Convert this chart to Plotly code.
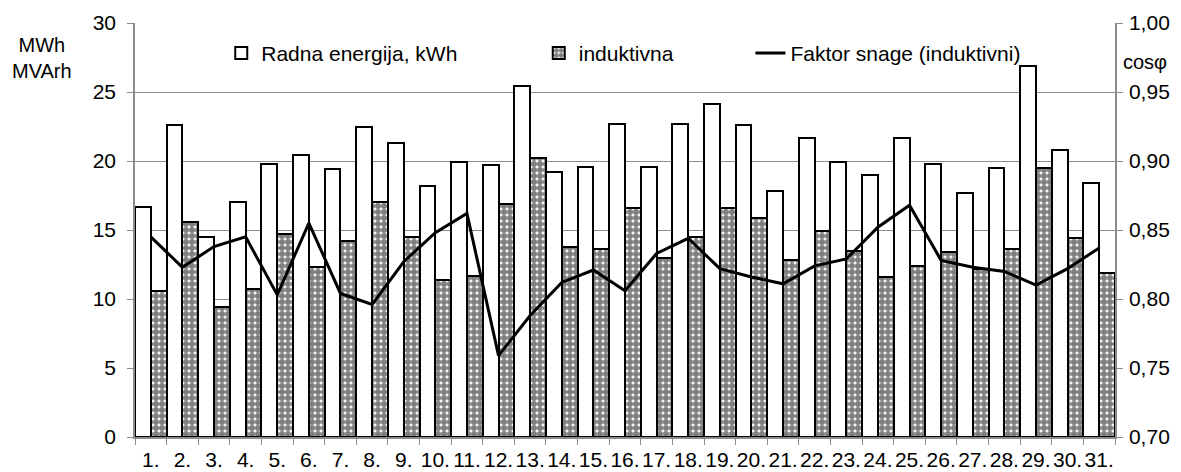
import plotly.graph_objects as go

days = [f"{i}." for i in range(1, 32)]

radna_energija = [16.7, 22.6, 14.5, 17.0, 19.8, 20.4, 19.4, 22.5, 21.3, 18.2,
                  19.9, 19.7, 25.4, 19.2, 19.6, 22.7, 19.6, 22.7, 24.1, 22.6,
                  17.8, 21.7, 19.9, 19.0, 21.7, 19.8, 17.7, 19.5, 26.9, 20.8,
                  18.4]

induktivna = [10.6, 15.6, 9.4, 10.7, 14.7, 12.3, 14.2, 17.0, 14.5, 11.4,
              11.7, 16.9, 20.2, 13.8, 13.6, 16.6, 13.0, 14.5, 16.6, 15.9,
              12.8, 14.9, 13.5, 11.6, 12.4, 13.4, 12.2, 13.6, 19.5, 14.4,
              11.9]

faktor_snage = [0.845, 0.823, 0.838, 0.845, 0.803, 0.855, 0.804, 0.796, 0.827, 0.848,
                0.862, 0.759, 0.788, 0.812, 0.821, 0.806, 0.833, 0.844, 0.822, 0.816,
                0.811, 0.824, 0.829, 0.852, 0.868, 0.828, 0.823, 0.820, 0.810, 0.822,
                0.837]

left_ticks = [0, 5, 10, 15, 20, 25, 30]
right_ticks = [0.70, 0.75, 0.80, 0.85, 0.90, 0.95, 1.00]

FONT = "Liberation Sans, Arial, sans-serif"
GRID = "#8c8c8c"
FS = 21

fig = go.Figure()
fig.add_trace(go.Bar(
    x=days, y=radna_energija, name="Radna energija, kWh",
    marker=dict(color="white", line=dict(color="black", width=2)),
    yaxis="y", legend="legend",
))
fig.add_trace(go.Bar(
    x=days, y=induktivna, name="induktivna",
    marker=dict(color="white", line=dict(color="black", width=2),
                pattern=dict(shape=".", fgcolor="black", bgcolor="white",
                             size=6, solidity=0.78, fillmode="overlay")),
    yaxis="y", legend="legend2",
))
fig.add_trace(go.Scatter(
    x=days, y=faktor_snage, name="Faktor snage (induktivni)",
    mode="lines", line=dict(color="black", width=3),
    yaxis="y2", legend="legend3",
))

leg_common = dict(orientation="h", y=0.976, xanchor="left", yanchor="top",
                  bgcolor="rgba(0,0,0,0)", font=dict(size=FS))

fig.update_layout(
    width=1181, height=472,
    margin=dict(l=135, r=66, t=23, b=35, autoexpand=False),
    paper_bgcolor="white", plot_bgcolor="white",
    font=dict(family=FONT, size=FS, color="black"),
    separators=",.",
    barmode="group", bargap=0, bargroupgap=0,
    showlegend=True,
    legend=dict(x=0.088, **leg_common),
    legend2=dict(x=0.412, **leg_common),
    legend3=dict(x=0.628, **leg_common),
    xaxis=dict(
        type="category", tickson="boundaries", ticks="outside", ticklen=6,
        tickcolor=GRID, showline=True, linecolor=GRID, linewidth=1.5,
        showgrid=False, tickfont=dict(size=FS), tickangle=0,
        ticklabelstandoff=3, automargin=False,
    ),
    yaxis=dict(
        range=[0, 30], tickvals=left_ticks, ticks="outside", ticklen=6,
        tickcolor=GRID, showline=True, linecolor=GRID, linewidth=1.5,
        showgrid=True, gridcolor=GRID, gridwidth=1.2, zeroline=False,
        tickfont=dict(size=FS), ticklabelstandoff=7, automargin=False,
    ),
    yaxis2=dict(
        range=[0.70, 1.00], tickvals=right_ticks, tickformat=".2f",
        overlaying="y", side="right", ticks="outside", ticklen=6,
        tickcolor=GRID, showline=True, linecolor=GRID, linewidth=1.5,
        showgrid=False, zeroline=False, tickfont=dict(size=FS),
        ticklabelstandoff=2, automargin=False,
    ),
    annotations=[
        dict(text="MWh<br>MVArh", xref="paper", yref="paper", x=-0.095, y=0.915,
             xanchor="center", yanchor="middle", showarrow=False,
             font=dict(size=FS - 1)),
        dict(text="cosφ", xref="paper", yref="paper", x=1.006, y=0.905,
             xanchor="left", yanchor="middle", showarrow=False,
             font=dict(size=FS - 1)),
    ],
)

fig.write_html(
    "out.html",
    config={"displayModeBar": False},
    post_script="document.body.style.margin='0';document.body.style.overflow='hidden';",
)
